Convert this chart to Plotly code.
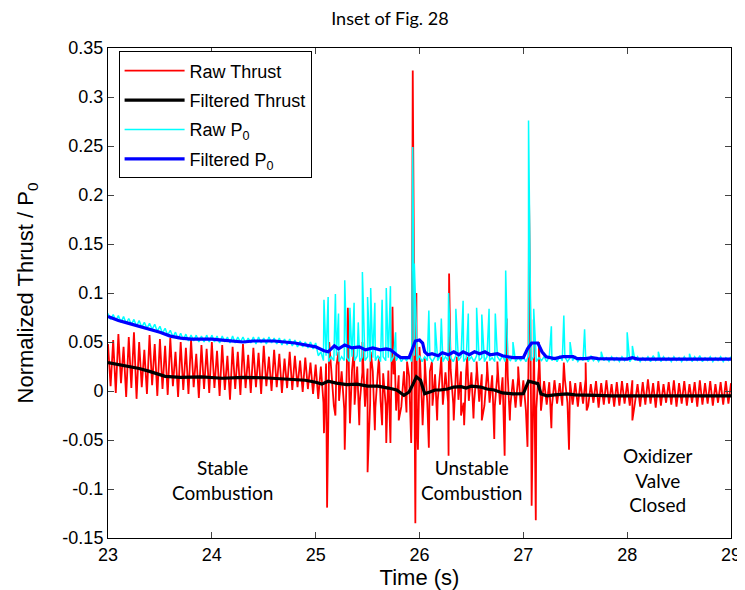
import numpy as np
import plotly.graph_objects as go

# raw thrust: upper peaks (23.00 .. 29.00) and lower troughs (23.025 .. 28.975)
thrust_hi = [0.048, 0.052, 0.058, 0.045, 0.055, 0.060, 0.050, 0.042, 0.057, 0.048,
             0.053, 0.046, 0.054, 0.040, 0.050, 0.044, 0.052, 0.038, 0.047, 0.043,
             0.050, 0.041, 0.047, 0.036, 0.045, 0.040, 0.048, 0.037, 0.044, 0.039,
             0.046, 0.035, 0.042, 0.038, 0.033, 0.040, 0.036, 0.031, 0.034, 0.029,
             0.027, 0.025, 0.028, 0.022, 0.026, 0.020, 0.024, 0.021, 0.025, 0.019,
             0.023, 0.020, 0.022, 0.018, 0.021, 0.017, 0.016, 0.020, 0.015, 0.030,
             0.028, 0.018, 0.020, 0.017, 0.021, 0.019, 0.022, 0.018, 0.020, 0.021,
             0.019, 0.020, 0.017, 0.019, 0.016, 0.018, 0.014, 0.015, 0.012, 0.014,
             0.011, 0.030, 0.035, 0.025, 0.010, 0.009, 0.011, 0.008, 0.012, 0.010,
             0.008, 0.009, 0.012, 0.007, 0.010, 0.008, 0.011, 0.007, 0.009, 0.010,
             0.008, 0.011, 0.007, 0.009, 0.012, 0.008, 0.010, 0.007, 0.009, 0.011,
             0.008, 0.010, 0.007, 0.009, 0.011, 0.008, 0.010, 0.007, 0.009, 0.010,
             0.008]
thrust_lo = [0.005, -0.002, 0.008, -0.006, 0.003, -0.008, 0.004, -0.003, 0.006, -0.005,
             0.002, -0.004, 0.005, -0.006, 0.001, -0.003, 0.004, -0.007, 0.002, -0.002,
             0.003, -0.005, 0.001, -0.009, 0.002, -0.004, 0.003, -0.002, 0.004, -0.003,
             0.005, 0.000, 0.004, -0.002, 0.003, 0.001, 0.004, -0.001, 0.002, -0.003,
             -0.008, -0.012, -0.006, -0.015, -0.010, -0.018, -0.007, -0.014, -0.011, -0.016,
             -0.012, -0.017, -0.010, -0.015, -0.013, -0.020, -0.016, -0.022, -0.025, -0.030,
             -0.018, -0.012, -0.015, -0.010, -0.014, -0.011, -0.013, -0.009, -0.012, -0.010,
             -0.013, -0.011, -0.015, -0.012, -0.016, -0.014, -0.018, -0.015, -0.017, -0.016,
             -0.020, -0.025, -0.018, -0.015, -0.014, -0.016, -0.013, -0.015, -0.012, -0.014,
             -0.016, -0.013, -0.015, -0.012, -0.017, -0.014, -0.013, -0.016, -0.015, -0.013,
             -0.015, -0.012, -0.016, -0.014, -0.013, -0.017, -0.015, -0.012, -0.014, -0.016,
             -0.013, -0.015, -0.012, -0.016, -0.014, -0.013, -0.015, -0.012, -0.014, -0.013]
thrust_spike_t = [25.08, 25.11, 25.13, 25.19, 25.22, 25.28, 25.31, 25.33, 25.37, 25.42,
                  25.45, 25.50, 25.53, 25.57, 25.61, 25.64, 25.68, 25.72, 25.74, 25.76,
                  25.80, 25.88, 25.92, 25.935, 25.945, 25.96, 25.97, 25.985, 26.00, 26.03,
                  26.05, 26.09, 26.12, 26.17, 26.21, 26.28, 26.285, 26.33, 26.36, 26.40,
                  26.43, 26.46, 26.52, 26.55, 26.60, 26.65, 26.72, 26.75, 26.82, 26.84,
                  26.87, 26.95, 27.04, 27.055, 27.065, 27.08, 27.10, 27.12, 27.15, 27.17,
                  27.27, 27.39, 27.44, 27.60, 27.61, 28.05]
thrust_spike_v = [-0.043, -0.119, 0.050, -0.025, 0.040, -0.060, 0.085, -0.033, 0.045, -0.035,
                  0.050, -0.083, 0.040, -0.040, 0.035, -0.035, -0.053, -0.053, 0.086, 0.040,
                  -0.030, 0.030, -0.053, 0.327, 0.154, -0.135, 0.100, -0.060, 0.045, -0.035,
                  0.034, -0.058, 0.030, -0.030, 0.035, -0.066, 0.120, -0.030, 0.035, -0.025,
                  -0.035, 0.035, -0.028, 0.030, -0.030, 0.030, -0.049, 0.030, -0.066, 0.074,
                  -0.030, 0.025, -0.057, 0.197, 0.100, -0.117, 0.073, -0.132, 0.050, -0.020,
                  -0.038, 0.029, -0.060, 0.029, -0.020, -0.030]

# raw P0: upper / lower band and spikes
p0_hi = [0.079, 0.078, 0.077, 0.076, 0.074, 0.073, 0.072, 0.070, 0.069, 0.068,
         0.066, 0.064, 0.062, 0.060, 0.059, 0.058, 0.057, 0.057, 0.056, 0.057,
         0.057, 0.056, 0.056, 0.055, 0.056, 0.055, 0.055, 0.054, 0.055, 0.055,
         0.054, 0.055, 0.054, 0.054, 0.053, 0.053, 0.052, 0.051, 0.050, 0.050,
         0.049, 0.040, 0.036, 0.035, 0.036, 0.035, 0.034, 0.035, 0.036, 0.035,
         0.035, 0.034, 0.036, 0.035, 0.034, 0.035, 0.036, 0.034, 0.035, 0.036,
         0.036, 0.035, 0.034, 0.035, 0.036, 0.035, 0.034, 0.036, 0.035, 0.034,
         0.035, 0.036, 0.034, 0.035, 0.034, 0.035, 0.036, 0.034, 0.035, 0.034,
         0.035, 0.036, 0.035, 0.034, 0.035, 0.035, 0.034, 0.036, 0.035, 0.034,
         0.035, 0.034, 0.035, 0.036, 0.034, 0.035, 0.034, 0.035, 0.034, 0.035,
         0.035, 0.034, 0.035, 0.034, 0.035, 0.036, 0.034, 0.035, 0.034, 0.035,
         0.034, 0.035, 0.034, 0.035, 0.036, 0.034, 0.035, 0.034, 0.035, 0.034,
         0.035]
p0_lo = [0.073, 0.072, 0.070, 0.069, 0.068, 0.066, 0.065, 0.064, 0.063, 0.061,
         0.059, 0.057, 0.055, 0.053, 0.052, 0.051, 0.051, 0.050, 0.050, 0.050,
         0.050, 0.049, 0.050, 0.049, 0.049, 0.050, 0.049, 0.049, 0.048, 0.049,
         0.048, 0.049, 0.048, 0.047, 0.047, 0.046, 0.045, 0.045, 0.044, 0.043,
         0.036, 0.031, 0.030, 0.031, 0.030, 0.031, 0.030, 0.031, 0.030, 0.031,
         0.030, 0.031, 0.030, 0.031, 0.030, 0.031, 0.030, 0.031, 0.030, 0.031,
         0.030, 0.031, 0.030, 0.031, 0.030, 0.031, 0.030, 0.031, 0.030, 0.031,
         0.030, 0.031, 0.030, 0.031, 0.030, 0.031, 0.030, 0.031, 0.030, 0.031,
         0.030, 0.031, 0.030, 0.031, 0.030, 0.031, 0.030, 0.031, 0.030, 0.031,
         0.030, 0.031, 0.030, 0.031, 0.030, 0.031, 0.030, 0.031, 0.030, 0.031,
         0.030, 0.031, 0.030, 0.031, 0.030, 0.031, 0.030, 0.031, 0.030, 0.031,
         0.030, 0.031, 0.030, 0.031, 0.030, 0.031, 0.030, 0.031, 0.030, 0.031]
p0_spike_t = [25.08, 25.12, 25.19, 25.22, 25.28, 25.33, 25.37, 25.41, 25.45, 25.50,
              25.53, 25.57, 25.64, 25.68, 25.72, 25.77, 25.935, 25.95, 25.97, 26.09,
              26.15, 26.21, 26.28, 26.35, 26.42, 26.47, 26.55, 26.60, 26.67, 26.73,
              26.83, 26.90, 27.05, 27.10, 27.27, 27.39, 27.45, 27.59, 27.75, 28.00,
              28.05, 28.30, 28.60]
p0_spike_v = [0.093, 0.096, 0.099, 0.079, 0.113, 0.085, 0.090, 0.070, 0.1215, 0.096,
              0.105, 0.090, 0.093, 0.105, 0.107, 0.060, 0.249, 0.130, 0.065, 0.082,
              0.070, 0.074, 0.100, 0.084, 0.092, 0.079, 0.085, 0.078, 0.084, 0.079,
              0.123, 0.050, 0.276, 0.084, 0.066, 0.077, 0.050, 0.063, 0.040, 0.060,
              0.046, 0.040, 0.038]

# filtered signals
thrust_filt_t = [23.0, 23.1, 23.2, 23.3, 23.4, 23.5, 23.55, 23.7, 23.9, 24.1,
                 24.3, 24.5, 24.7, 24.9, 25.0, 25.06, 25.12, 25.2, 25.3, 25.4,
                 25.5, 25.6, 25.7, 25.78, 25.85, 25.9, 25.94, 25.97, 26.01, 26.05,
                 26.1, 26.15, 26.2, 26.27, 26.33, 26.4, 26.45, 26.5, 26.59, 26.65,
                 26.72, 26.8, 26.9, 27.0, 27.05, 27.1, 27.14, 27.17, 27.23, 27.3,
                 27.42, 27.5, 27.6, 27.7, 27.85, 28.1, 28.33, 28.6, 29.0]
thrust_filt = [0.029, 0.027, 0.025, 0.023, 0.020, 0.017, 0.015, 0.014, 0.0145, 0.013,
               0.014, 0.0135, 0.0125, 0.011, 0.009, 0.007, 0.010, 0.008, 0.0065, 0.007,
               0.005, 0.005, 0.003, 0.001, -0.0045, -0.001, 0.0075, 0.0145, 0.011, -0.0027,
               -0.001, 0.001, 0.001, 0.002, 0.004, 0.0045, 0.003, 0.005, 0.004, 0.002,
               0.001, -0.002, -0.003, -0.0027, 0.010, 0.009, 0.0075, -0.003, -0.005, -0.004,
               -0.003, -0.004, -0.004, -0.0045, -0.005, -0.005, -0.0055, -0.005, -0.005]
p0_filt_t = [23.0, 23.1, 23.2, 23.3, 23.4, 23.5, 23.6, 23.7, 23.8, 24.0,
             24.1, 24.2, 24.3, 24.4, 24.6, 24.8, 24.9, 25.0, 25.08, 25.12,
             25.18, 25.22, 25.28, 25.35, 25.42, 25.48, 25.55, 25.62, 25.68, 25.72,
             25.78, 25.82, 25.9, 25.93, 25.96, 26.0, 26.03, 26.05, 26.08, 26.12,
             26.18, 26.22, 26.28, 26.33, 26.38, 26.42, 26.48, 26.53, 26.58, 26.63,
             26.68, 26.75, 26.8, 26.85, 26.9, 27.0, 27.04, 27.08, 27.14, 27.18,
             27.22, 27.3, 27.38, 27.48, 27.52, 27.6, 27.66, 27.72, 28.0, 28.05,
             28.1, 29.0]
p0_filt = [0.076, 0.072, 0.069, 0.066, 0.063, 0.060, 0.056, 0.054, 0.053, 0.053,
           0.052, 0.051, 0.050, 0.051, 0.051, 0.049, 0.047, 0.045, 0.041, 0.040,
           0.046, 0.043, 0.047, 0.044, 0.045, 0.042, 0.044, 0.042, 0.043, 0.042,
           0.037, 0.034, 0.034, 0.042, 0.051, 0.052, 0.049, 0.040, 0.037, 0.038,
           0.036, 0.039, 0.037, 0.040, 0.037, 0.040, 0.037, 0.040, 0.038, 0.040,
           0.037, 0.038, 0.036, 0.035, 0.034, 0.034, 0.043, 0.049, 0.049, 0.040,
           0.035, 0.033, 0.035, 0.035, 0.033, 0.033, 0.034, 0.033, 0.0325, 0.034,
           0.0325, 0.0325]

y_tick_vals = [-0.15, -0.1, -0.05, 0, 0.05, 0.1, 0.15, 0.2, 0.25, 0.3, 0.35]
y_tick_text = ['-0.15', '-0.1', '-0.05', '0', '0.05', '0.1', '0.15', '0.2', '0.25', '0.3', '0.35']
x_tick_vals = [23, 24, 25, 26, 27, 28, 29]

notes = ['Stable<br>Combustion', 'Unstable<br>Combustion', 'Oxidizer<br>Valve<br>Closed']
notes_t = [24.1, 26.5, 28.3]
notes_v = [-0.091, -0.091, -0.091]


def raw_series(hi, lo, spike_t, spike_v, t0 = 23.0, t1 = 29.0):
    # peaks and troughs alternate, spikes slotted in by time
    t_hi = np.linspace(t0, t1, len(hi))
    half = (t1 - t0) / (len(hi) - 1) / 2
    t_lo = np.linspace(t0 + half, t1 - half, len(lo))
    t = np.concatenate([t_hi, t_lo, spike_t])
    v = np.concatenate([hi, lo, spike_v])
    order = np.argsort(t, kind = 'stable')
    return t[order], v[order]


rt_t, rt_v = raw_series(thrust_hi, thrust_lo, thrust_spike_t, thrust_spike_v)
rp_t, rp_v = raw_series(p0_hi, p0_lo, p0_spike_t, p0_spike_v)

fig = go.Figure()
fig.add_trace(go.Scatter(x = rt_t, y = rt_v, mode = 'lines', name = 'Raw Thrust', legendgroup = 'a',
                         line = dict(color = '#FF0000', width = 1.8, simplify = False)))
fig.add_trace(go.Scatter(x = thrust_filt_t, y = thrust_filt, mode = 'lines', name = 'Filtered Thrust',
                         legendgroup = 'b', line = dict(color = '#000000', width = 3.2)))
fig.add_trace(go.Scatter(x = rp_t, y = rp_v, mode = 'lines', name = 'Raw P<sub>0</sub>', legendgroup = 'c',
                         line = dict(color = '#00FFFF', width = 1.5, simplify = False)))
fig.add_trace(go.Scatter(x = p0_filt_t, y = p0_filt, mode = 'lines', name = 'Filtered P<sub>0</sub>',
                         legendgroup = 'd', line = dict(color = '#0000FF', width = 3.2)))

for text, t, v in zip(notes, notes_t, notes_v):
    fig.add_annotation(x = t, y = v, text = text, showarrow = False,
                       font = dict(family = 'Lato', size = 19, color = '#000000'))

fig.update_layout(width = 745, height = 590, autosize = False,
                  margin = dict(l = 100, r = 13, t = 40, b = 54),
                  paper_bgcolor = '#FFFFFF', plot_bgcolor = '#FFFFFF',
                  font = dict(family = 'Liberation Sans, Arial', size = 18, color = '#000000'),
                  title = dict(text = 'Inset of Fig. 28', x = 0.4525, xref = 'paper', xanchor = 'center',
                               y = 0.982, yref = 'container', yanchor = 'middle',
                               font = dict(family = 'Lato', size = 18)),
                  legend = dict(x = 0.017, y = 0.993, xanchor = 'left', yanchor = 'top',
                                bgcolor = '#FFFFFF', bordercolor = '#000000', borderwidth = 1,
                                font = dict(size = 18), tracegroupgap = 3, itemwidth = 60),
                  showlegend = True)

fig.update_xaxes(range = [23, 29], tickvals = x_tick_vals, ticks = 'inside', ticklen = 6,
                 showline = True, linewidth = 1, linecolor = '#000000', mirror = 'ticks',
                 showgrid = False, zeroline = False, title_text = 'Time (s)', title_standoff = 6)
fig.update_yaxes(range = [-0.15, 0.35], tickvals = y_tick_vals, ticktext = y_tick_text,
                 ticks = 'inside', ticklen = 6,
                 showline = True, linewidth = 1, linecolor = '#000000', mirror = 'ticks',
                 showgrid = False, zeroline = False, title_text = 'Normalized Thrust / P<sub>0</sub>',
                 title_standoff = 22)

fig.write_html("out.html")
